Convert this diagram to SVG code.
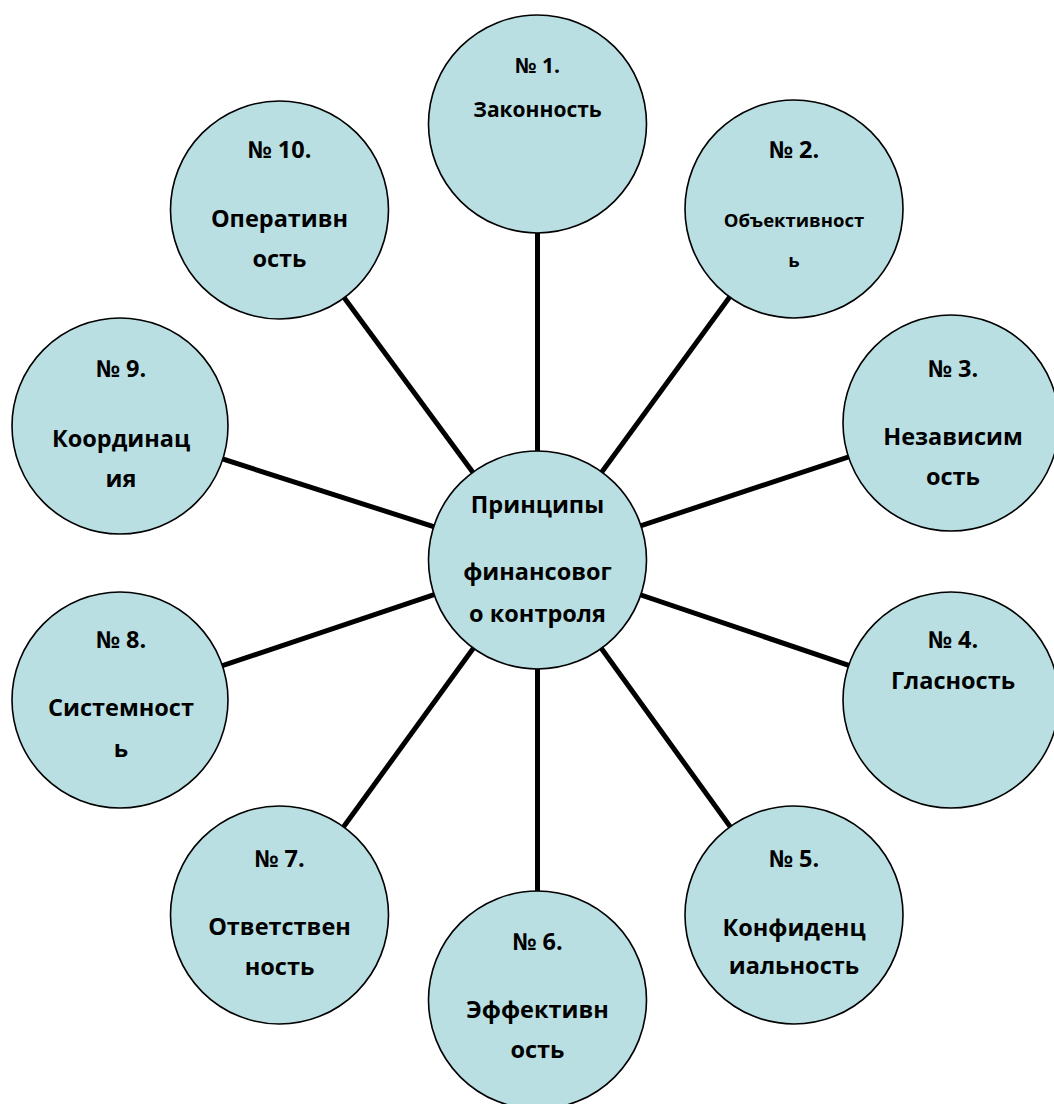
<svg xmlns="http://www.w3.org/2000/svg" width="1054" height="1104" viewBox="0 0 1054 1104">
<style>
.n{fill:#B9DFE3;stroke:#000;stroke-width:1.6}
.t{font-family:"Open Sans","Liberation Sans",sans-serif;font-weight:bold;font-size:23.5px;fill:#000;text-anchor:middle}
.s{font-size:18.5px}
.m{font-size:21px}
.c line{stroke:#000;stroke-width:5}
</style>
<rect width="1054" height="1104" fill="#fff"/>
<g id="connectors" class="c">
<line x1="537.5" y1="560" x2="537.5" y2="124"/>
<line x1="537.5" y1="560" x2="794" y2="209"/>
<line x1="537.5" y1="560" x2="951" y2="423"/>
<line x1="537.5" y1="560" x2="951" y2="700"/>
<line x1="537.5" y1="560" x2="794" y2="915"/>
<line x1="537.5" y1="560" x2="537.5" y2="1000"/>
<line x1="537.5" y1="560" x2="279.5" y2="915"/>
<line x1="537.5" y1="560" x2="120" y2="700"/>
<line x1="537.5" y1="560" x2="120" y2="426"/>
<line x1="537.5" y1="560" x2="279.5" y2="210"/>
</g>
<g id="center">
<circle class="n" cx="537.5" cy="560" r="109"/>
<text class="t" x="537.5" y="513">Принципы</text>
<text class="t" x="537.5" y="580">финансовог</text>
<text class="t" x="537.5" y="622">о контроля</text>
</g>
<g id="node1">
<circle class="n" cx="537.5" cy="124" r="109"/>
<text class="t m" x="537.5" y="73">№ 1.</text>
<text class="t m" x="537.5" y="117">Законность</text>
</g>
<g id="node2">
<circle class="n" cx="794" cy="209" r="109"/>
<text class="t" x="794" y="158">№ 2.</text>
<text class="t s" x="794" y="227">Объективност</text>
<text class="t s" x="794" y="267">ь</text>
</g>
<g id="node3">
<circle class="n" cx="951" cy="423" r="108"/>
<text class="t" x="953" y="377">№ 3.</text>
<text class="t" x="953" y="445">Независим</text>
<text class="t" x="953" y="485">ость</text>
</g>
<g id="node4">
<circle class="n" cx="951" cy="700" r="108"/>
<text class="t" x="953" y="648">№ 4.</text>
<text class="t" x="953" y="689">Гласность</text>
</g>
<g id="node5">
<circle class="n" cx="794" cy="915" r="109"/>
<text class="t" x="794" y="867">№ 5.</text>
<text class="t" x="794" y="936">Конфиденц</text>
<text class="t" x="794" y="974">иальность</text>
</g>
<g id="node6">
<circle class="n" cx="537.5" cy="1000" r="109"/>
<text class="t" x="537.5" y="950">№ 6.</text>
<text class="t" x="537.5" y="1018">Эффективн</text>
<text class="t" x="537.5" y="1058">ость</text>
</g>
<g id="node7">
<circle class="n" cx="279.5" cy="915" r="109"/>
<text class="t" x="279.5" y="867">№ 7.</text>
<text class="t" x="279.5" y="935">Ответствен</text>
<text class="t" x="279.5" y="975">ность</text>
</g>
<g id="node8">
<circle class="n" cx="120" cy="700" r="108"/>
<text class="t" x="121" y="648">№ 8.</text>
<text class="t" x="121" y="716">Системност</text>
<text class="t" x="121" y="757">ь</text>
</g>
<g id="node9">
<circle class="n" cx="120" cy="426" r="108"/>
<text class="t" x="121" y="377">№ 9.</text>
<text class="t" x="121" y="447">Координац</text>
<text class="t" x="121" y="487">ия</text>
</g>
<g id="node10">
<circle class="n" cx="279.5" cy="210" r="109"/>
<text class="t" x="279.5" y="158">№ 10.</text>
<text class="t" x="279.5" y="227">Оперативн</text>
<text class="t" x="279.5" y="267">ость</text>
</g>
</svg>
